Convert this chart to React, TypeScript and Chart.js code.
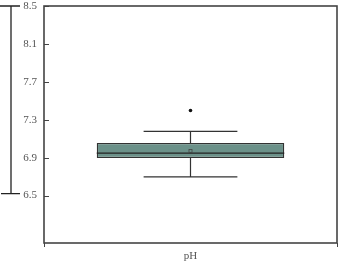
import React, { useEffect, useRef } from "react";
import { Chart, registerables } from "chart.js";

Chart.register(...registerables);

const categories = ["pH"];
const q1Values = [6.897];
const q3Values = [7.055];
const medianValues = [6.949];
const whiskerLow = [6.697];
const whiskerHigh = [7.177];
const meanValues = [6.97];
const outlierValues = [7.398];
const yTickValues = [6.5, 6.9, 7.3, 7.7, 8.1, 8.5];
const bracketRange = [6.52, 8.5];

const FONT = "'Liberation Serif', 'DejaVu Serif', serif";

export default function App() {
  const ref = useRef<HTMLCanvasElement | null>(null);
  useEffect(() => {
    document.body.style.margin = "0";
    const canvas = ref.current!;
    const boxPlugin = {
      id: "boxExtras",
      afterDatasetsDraw(chart: any) {
        const ctx = chart.ctx;
        const x = chart.scales.x;
        const y = chart.scales.y;
        const area = chart.chartArea;
        ctx.save();
        categories.forEach((_, i) => {
          const meta = chart.getDatasetMeta(0);
          const bar = meta.data[i] as any;
          const cx = x.getPixelForValue(i);
          const bw = bar.width;
          ctx.strokeStyle = "#333";
          ctx.lineWidth = 1.2;
          const yHi = y.getPixelForValue(whiskerHigh[i]);
          const yLo = y.getPixelForValue(whiskerLow[i]);
          const yQ3 = y.getPixelForValue(q3Values[i]);
          const yQ1 = y.getPixelForValue(q1Values[i]);
          ctx.beginPath();
          ctx.moveTo(cx, yHi);
          ctx.lineTo(cx, yQ3);
          ctx.moveTo(cx, yQ1);
          ctx.lineTo(cx, yLo);
          ctx.moveTo(cx - bw / 4, yHi);
          ctx.lineTo(cx + bw / 4, yHi);
          ctx.moveTo(cx - bw / 4, yLo);
          ctx.lineTo(cx + bw / 4, yLo);
          ctx.stroke();
          const yMed = y.getPixelForValue(medianValues[i]);
          ctx.lineWidth = 1.3;
          ctx.strokeStyle = "#222";
          ctx.beginPath();
          ctx.moveTo(cx - bw / 2, yMed);
          ctx.lineTo(cx + bw / 2, yMed);
          ctx.stroke();
          const yMean = y.getPixelForValue(meanValues[i]);
          ctx.lineWidth = 0.8;
          ctx.strokeStyle = "#444";
          ctx.strokeRect(cx - 1.5, yMean - 1.5, 3, 3);
          const yOut = y.getPixelForValue(outlierValues[i]);
          ctx.fillStyle = "#111";
          ctx.beginPath();
          ctx.arc(cx, yOut, 1.8, 0, Math.PI * 2);
          ctx.fill();
        });
        ctx.strokeStyle = "#444";
        ctx.lineWidth = 1;
        yTickValues.forEach((v) => {
          const py = Math.round(y.getPixelForValue(v)) + 0.5;
          ctx.beginPath();
          ctx.moveTo(area.left, py);
          ctx.lineTo(area.left + 5, py);
          ctx.stroke();
        });
        ctx.strokeStyle = "#444";
        ctx.lineWidth = 1.6;
        ctx.strokeRect(area.left, area.top, area.right - area.left, area.bottom - area.top);
        const bTop = y.getPixelForValue(bracketRange[1]);
        const bBot = y.getPixelForValue(bracketRange[0]);
        ctx.strokeStyle = "#222";
        ctx.lineWidth = 1.3;
        ctx.beginPath();
        ctx.moveTo(11, bTop);
        ctx.lineTo(11, bBot);
        ctx.moveTo(0, bTop);
        ctx.lineTo(20, bTop);
        ctx.moveTo(1, bBot);
        ctx.lineTo(20, bBot);
        ctx.stroke();
        ctx.restore();
      },
    };
    const chart = new Chart(canvas, {
      type: "bar",
      data: {
        labels: categories,
        datasets: [
          {
            data: categories.map((_, i) => [q1Values[i], q3Values[i]]) as any,
            backgroundColor: "#6b9189",
            borderColor: "#333",
            borderWidth: 1.3,
            borderSkipped: false,
            barPercentage: 0.64,
            categoryPercentage: 1,
          },
        ],
      },
      options: {
        animation: false,
        responsive: false,
        maintainAspectRatio: false,
        layout: { padding: { top: 6, right: 3, left: 0, bottom: 0 } },
        plugins: { legend: { display: false }, tooltip: { enabled: false } },
        scales: {
          x: {
            grid: { display: true, drawOnChartArea: false, drawTicks: true, tickLength: 4, color: "#444" },
            border: { display: false },
            ticks: { color: "#555", font: { family: FONT, size: 11 }, padding: 3 },
            afterFit: (s: any) => {
              s.height = 21;
              s.paddingLeft = 0;
              s.paddingRight = 0;
            },
          },
          y: {
            min: 6.0,
            max: 8.5,
            grid: { display: false, drawTicks: false },
            border: { display: false },
            afterBuildTicks: (s: any) => {
              s.ticks = yTickValues.map((v) => ({ value: v }));
            },
            ticks: {
              color: "#555",
              font: { family: FONT, size: 11 },
              padding: 7,
              callback: (v: any) => Number(v).toFixed(1),
            },
            afterFit: (s: any) => {
              s.width = 44;
              s.paddingTop = 0;
              s.paddingBottom = 0;
            },
          },
        },
      },
      plugins: [boxPlugin],
    });
    return () => chart.destroy();
  }, []);
  return (
    <div style={{ width: 340, height: 264 }}>
      <canvas ref={ref} width={340} height={264} />
    </div>
  );
}
